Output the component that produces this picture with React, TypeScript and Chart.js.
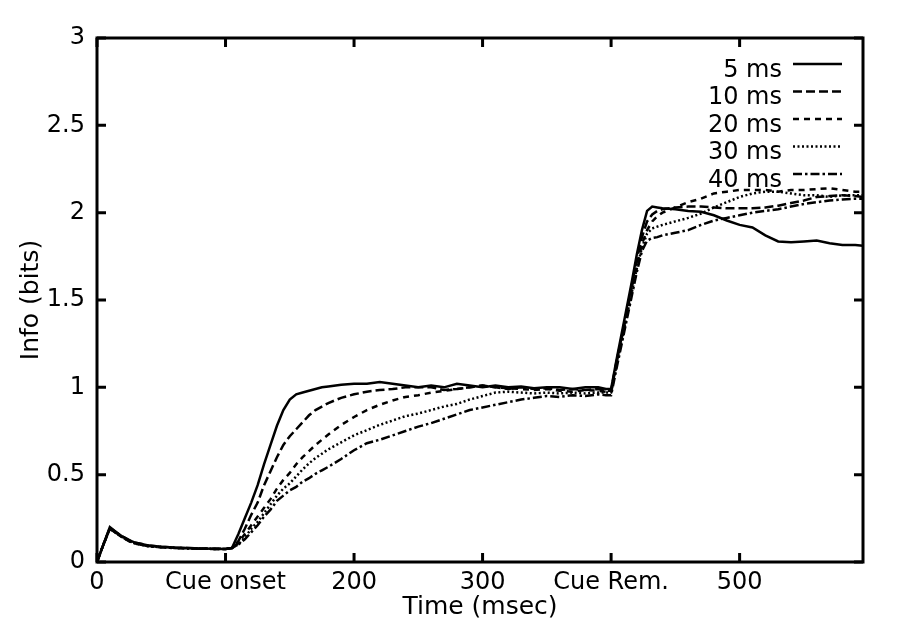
import React, { useEffect, useRef } from "react";
import { Chart, registerables } from "chart.js";

Chart.register(...registerables);

// time axis (msec)
const timeMs = [
  0, 5, 10, 15, 20, 25, 30, 40, 50, 60, 70, 80, 90, 100,
  105, 110, 115, 120, 125, 130, 135, 140, 145, 150, 155, 160, 165, 170, 175, 180,
  190, 200, 210, 220, 230, 240, 250, 260, 270, 280, 290, 300, 310, 320, 330, 340, 350, 360, 370, 380, 390, 396,
  400, 404, 408, 412, 416, 420, 424, 428, 432, 436, 440,
  450, 460, 470, 480, 490, 500, 510, 520, 530, 540, 550, 560, 570, 580, 590, 596,
];

const info5ms = [
  0, 0.1, 0.2, 0.17, 0.145, 0.125, 0.11, 0.095, 0.088, 0.083, 0.08, 0.078, 0.076, 0.075,
  0.08, 0.16, 0.25, 0.34, 0.44, 0.56, 0.67, 0.78, 0.87, 0.93, 0.96, 0.97, 0.98, 0.99, 1.0, 1.005,
  1.015, 1.02, 1.02, 1.03, 1.02, 1.01, 1.0, 1.01, 1.0, 1.02, 1.01, 1.0, 1.01, 1.0, 1.005, 0.995, 1.0, 1.0, 0.99, 1.0, 1.0, 0.99,
  0.99, 1.15, 1.3, 1.45, 1.6, 1.76, 1.9, 2.01, 2.035, 2.03, 2.025,
  2.02, 2.01, 2.005, 1.985, 1.955, 1.93, 1.915, 1.87, 1.835, 1.83, 1.835, 1.84, 1.825, 1.815, 1.815, 1.81,
];

const info10ms = [
  0, 0.1, 0.195, 0.17, 0.145, 0.125, 0.11, 0.095, 0.087, 0.082, 0.08, 0.077, 0.076, 0.075,
  0.08, 0.12, 0.19, 0.27, 0.34, 0.44, 0.52, 0.6, 0.67, 0.72, 0.76, 0.8, 0.84, 0.87, 0.89, 0.91,
  0.94, 0.96, 0.975, 0.985, 0.99, 1.0, 1.0, 1.0, 0.985, 0.99, 1.0, 1.01, 1.0, 0.99, 1.0, 0.99, 0.995, 0.985, 0.99, 0.985, 0.99, 0.98,
  0.98, 1.14, 1.28, 1.43, 1.58, 1.73, 1.86, 1.95, 1.99, 2.01, 2.02,
  2.03, 2.035, 2.035, 2.03, 2.025, 2.025, 2.025, 2.03, 2.04, 2.055, 2.07, 2.09, 2.095, 2.1, 2.095, 2.09,
];

const info20ms = [
  0, 0.1, 0.19, 0.165, 0.14, 0.12, 0.105, 0.092, 0.085, 0.081, 0.079, 0.077, 0.075, 0.075,
  0.08, 0.11, 0.16, 0.21, 0.26, 0.31, 0.36, 0.42, 0.47, 0.51, 0.56, 0.6, 0.635, 0.67, 0.7, 0.73,
  0.785, 0.83, 0.87, 0.9, 0.925, 0.945, 0.955, 0.97, 0.98, 0.99, 1.0, 1.01, 1.0, 0.995, 0.99, 0.985, 0.99, 0.98, 0.975, 0.985, 0.98, 0.975,
  0.975, 1.13, 1.27, 1.42, 1.56, 1.7, 1.82, 1.9, 1.95, 1.98, 2.0,
  2.03, 2.06, 2.08, 2.11, 2.12, 2.13, 2.13, 2.13, 2.12, 2.13, 2.13, 2.135, 2.14, 2.13, 2.12, 2.12,
];

const info30ms = [
  0, 0.1, 0.19, 0.165, 0.14, 0.12, 0.105, 0.09, 0.084, 0.08, 0.078, 0.076, 0.075, 0.074,
  0.08, 0.1, 0.14, 0.19, 0.23, 0.28, 0.33, 0.38, 0.42, 0.45, 0.49, 0.53, 0.565, 0.595, 0.62, 0.645,
  0.685, 0.725, 0.755, 0.785, 0.81, 0.835, 0.85, 0.87, 0.89, 0.905, 0.93, 0.95, 0.97, 0.975, 0.97, 0.965, 0.97, 0.965, 0.97, 0.965, 0.97, 0.97,
  0.97, 1.12, 1.26, 1.4, 1.54, 1.68, 1.8, 1.88, 1.91, 1.92, 1.93,
  1.95, 1.97, 1.995, 2.03, 2.06, 2.09, 2.11, 2.12, 2.12, 2.11, 2.1, 2.1, 2.09, 2.1, 2.1, 2.1,
];

const info40ms = [
  0, 0.1, 0.19, 0.165, 0.14, 0.12, 0.105, 0.09, 0.084, 0.08, 0.078, 0.076, 0.075, 0.074,
  0.08, 0.1, 0.13, 0.17, 0.21, 0.26, 0.3, 0.35, 0.38, 0.41, 0.43, 0.46, 0.48, 0.505, 0.525, 0.545,
  0.59, 0.64, 0.68, 0.7, 0.725, 0.75, 0.775, 0.795, 0.82, 0.845, 0.87, 0.885, 0.9, 0.915, 0.93, 0.94, 0.95, 0.945, 0.955, 0.95, 0.96, 0.955,
  0.955, 1.1, 1.24, 1.38, 1.52, 1.66, 1.78, 1.84, 1.855, 1.86, 1.87,
  1.885, 1.9, 1.93, 1.955, 1.97, 1.985, 2.0, 2.01, 2.02, 2.035, 2.05, 2.06, 2.07, 2.075, 2.08, 2.08,
];

const seriesLabels = ["5 ms", "10 ms", "20 ms", "30 ms", "40 ms"];
const seriesValues = [info5ms, info10ms, info20ms, info30ms, info40ms];

const xTickValues = [0, 100, 200, 300, 400, 500];
const xTickLabels = ["0", "Cue onset", "200", "300", "Cue Rem.", "500"];
const yTickValues = [0, 0.5, 1, 1.5, 2, 2.5, 3];
const yTickLabels = ["0", "0.5", "1", "1.5", "2", "2.5", "3"];

const xTitle = "Time (msec)";
const yTitle = "Info (bits)";

const FONT = "'DejaVu Sans', sans-serif";
const dashStyles: number[][] = [[], [9, 4], [6, 5], [2, 2.5], [9, 3, 2.5, 3]];

const framePlugin = {
  id: "gnuframe",
  afterDatasetsDraw(chart: any) {
    const { ctx, chartArea: a, scales } = chart;
    ctx.save();
    ctx.strokeStyle = "#000";
    ctx.setLineDash([]);
    ctx.lineWidth = 3;
    ctx.strokeRect(a.left, a.top, a.right - a.left, a.bottom - a.top);
    const L = 9;
    ctx.beginPath();
    for (const v of xTickValues) {
      const px = scales.x.getPixelForValue(v);
      ctx.moveTo(px, a.bottom);
      ctx.lineTo(px, a.bottom - L);
      ctx.moveTo(px, a.top);
      ctx.lineTo(px, a.top + L);
    }
    for (const v of yTickValues) {
      const py = scales.y.getPixelForValue(v);
      ctx.moveTo(a.left, py);
      ctx.lineTo(a.left + L, py);
      ctx.moveTo(a.right, py);
      ctx.lineTo(a.right - L, py);
    }
    ctx.stroke();

    // key (legend), gnuplot style: right-aligned text then line sample
    ctx.font = `24px ${FONT}`;
    ctx.fillStyle = "#000";
    ctx.textAlign = "right";
    ctx.textBaseline = "alphabetic";
    chart.data.datasets.forEach((ds: any, i: number) => {
      const y = a.top + 26 + i * 27.5;
      ctx.fillText(ds.label, a.right - 81, y + 12.5);
      ctx.beginPath();
      ctx.setLineDash(ds.borderDash || []);
      ctx.lineWidth = 2.5;
      ctx.moveTo(a.right - 70, y);
      ctx.lineTo(a.right - 21, y);
      ctx.stroke();
    });
    ctx.restore();
  },
};

export default function App() {
  const canvasRef = useRef<HTMLCanvasElement | null>(null);

  useEffect(() => {
    document.body.style.margin = "0";
    const canvas = canvasRef.current;
    if (!canvas) return;

    const datasets = seriesLabels.map((label, i) => ({
      label,
      data: timeMs.map((t, j) => ({ x: t, y: seriesValues[i][j] })),
      borderColor: "#000",
      backgroundColor: "#000",
      borderWidth: 2.5,
      borderDash: dashStyles[i],
      pointRadius: 0,
      tension: 0,
      fill: false,
    }));

    const chart = new Chart(canvas, {
      type: "line",
      data: { datasets },
      options: {
        animation: false,
        responsive: false,
        layout: { padding: { top: 38, right: 37, left: 0, bottom: 0 } },
        plugins: {
          legend: { display: false },
          tooltip: { enabled: false },
        },
        scales: {
          x: {
            type: "linear",
            min: 0,
            max: 596,
            afterBuildTicks: (s: any) => {
              s.ticks = xTickValues.map((v) => ({ value: v }));
            },
            afterFit: (s: any) => {
              s.height = 81;
            },
            grid: { display: false, drawTicks: false, tickLength: 0 },
            border: { display: false },
            ticks: {
              autoSkip: false,
              maxRotation: 0,
              padding: 6,
              color: "#000",
              font: { family: FONT, size: 24 },
              callback: (_v: any, idx: number) => xTickLabels[idx] ?? "",
            },
            title: {
              display: true,
              text: xTitle,
              color: "#000",
              font: { family: FONT, size: 25 },
              padding: { top: 0, bottom: 21 },
            },
          },
          y: {
            type: "linear",
            min: 0,
            max: 3,
            afterBuildTicks: (s: any) => {
              s.ticks = yTickValues.map((v) => ({ value: v }));
            },
            afterFit: (s: any) => {
              s.width = 97;
            },
            grid: { display: false, drawTicks: false, tickLength: 0 },
            border: { display: false },
            ticks: {
              padding: 12,
              color: "#000",
              font: { family: FONT, size: 24 },
              callback: (_v: any, idx: number) => yTickLabels[idx] ?? "",
            },
            title: {
              display: true,
              text: yTitle,
              color: "#000",
              font: { family: FONT, size: 25 },
              padding: { top: 16, bottom: 0 },
            },
          },
        },
      } as any,
      plugins: [framePlugin],
    });

    return () => {
      chart.destroy();
    };
  }, []);

  return (
    <div style={{ width: 900, height: 643, background: "#fff" }}>
      <canvas ref={canvasRef} width={900} height={643} style={{ display: "block" }} />
    </div>
  );
}
